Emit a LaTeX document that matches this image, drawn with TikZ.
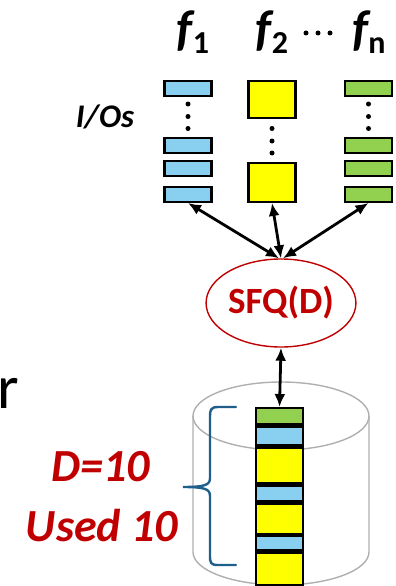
\documentclass[tikz,border=0pt]{standalone}
\usepackage{fontspec}
\setmainfont{Carlito}
\usetikzlibrary{arrows.meta,shapes.geometric}
\definecolor{ioblue}{RGB}{137,207,240}
\definecolor{ioyellow}{RGB}{255,255,0}
\definecolor{iogreen}{RGB}{146,208,80}
\definecolor{darkred}{RGB}{192,0,0}
\definecolor{bracecol}{RGB}{31,95,140}
\definecolor{diskgray}{RGB}{175,175,175}
\tikzset{
  io/.style={draw=black, line width=2.4pt, minimum width=47pt, minimum height=14.5pt, inner sep=0pt},
  seg/.style={draw=black, line width=2.4pt, minimum width=46.5pt, inner sep=0pt, anchor=north},
  biarrow/.style={line width=2.8pt, {Latex[length=13pt,width=11pt]}-{Latex[length=13pt,width=11pt]}},
  vdot/.style={fill=black, draw=none},
  flabel/.style={inner sep=0pt, anchor=base, font=\fontsize{50}{50}\selectfont\bfseries},
}
\newcommand{\subidx}[1]{\raisebox{-8pt}{\fontsize{32}{32}\selectfont\upshape #1}}
\begin{document}
\begin{tikzpicture}[x=1pt,y=-1pt]
\useasboundingbox (0,0) rectangle (396,586);

% flow labels
\node[flabel] (f1) at (193,46) {\itshape f\subidx{1}};
\node[flabel] (f2) at (272,46) {\itshape f\subidx{2}};
\node[flabel] (fn) at (369,46) {\itshape f\subidx{n}};
\foreach \x in {306,318,330} \fill[vdot] (\x,33) circle[radius=2.5pt];

\node[inner sep=0pt, font=\fontsize{33}{33}\selectfont\bfseries\itshape] (ios) at (105,117) {I/Os};

% flow 1 queue
\node[io, fill=ioblue] (b0) at (188,88.5) {};
\node[io, fill=ioblue] (b1) at (188,145.5) {};
\node[io, fill=ioblue] (b2) at (188,168.5) {};
\node[io, fill=ioblue] (b3) at (188,194.5) {};
% flow 2 queue
\node[io, fill=ioyellow, minimum height=36.5pt] (y0) at (272,99.5) {};
\node[io, fill=ioyellow, minimum height=38.5pt] (y1) at (272,182.5) {};
% flow n queue
\node[io, fill=iogreen] (g0) at (368.5,88.5) {};
\node[io, fill=iogreen] (g1) at (368.5,145.5) {};
\node[io, fill=iogreen] (g2) at (368.5,168.5) {};
\node[io, fill=iogreen] (g3) at (368.5,194.5) {};

\foreach \y in {104,116.5,128.5} {
  \fill[vdot] (188,\y) circle[radius=2.5pt];
  \fill[vdot] (368.5,\y) circle[radius=2.5pt];
}
\foreach \y in {128.5,141,153} \fill[vdot] (272,\y) circle[radius=2.5pt];

% scheduler
\node[ellipse, draw=darkred, line width=1.4pt, minimum width=121pt, minimum height=88pt,
      inner sep=0pt, text=darkred, font=\fontsize{37}{37}\selectfont\bfseries] (sfq) at (281,303) {SFQ(D)};

\coordinate (inL) at ([xshift=-2pt]sfq.north);
\coordinate (inR) at ([xshift=2pt]sfq.north);
\draw[biarrow] (b3.south) -- (inL);
\draw[biarrow] (y1.south) -- (sfq.north);
\draw[biarrow] (g3.south) -- (inR);

% disk
\draw[diskgray, line width=1.4pt] (281,416) ellipse [x radius=88pt, y radius=34pt];
\draw[diskgray, line width=1.4pt] (193,416) -- (193,552)
   arc[start angle=180, end angle=360, x radius=88pt, y radius=33pt] -- (369,416);

% outstanding requests at the device
\node[seg, fill=iogreen,  minimum height=16pt] (s1) at (279.5,407) {};
\node[seg, fill=ioblue,   minimum height=19pt] (s2) at (s1.south) {};
\node[seg, fill=ioyellow, minimum height=35pt] (s3) at (s2.south) {};
\node[seg, fill=ioblue,   minimum height=16pt] (s4) at (s3.south) {};
\node[seg, fill=ioyellow, minimum height=30pt] (s5) at (s4.south) {};
\node[seg, fill=ioblue,   minimum height=14pt] (s6) at (s5.south) {};
\node[seg, fill=ioyellow, minimum height=33pt] (s7) at (s6.south) {};

\draw[biarrow] (sfq.south) -- (s1.north);

% brace
\coordinate (bt) at (236,407);
\coordinate (bb) at (236,565);
\coordinate (tip) at (183,487);
\draw[bracecol, line width=2.4pt, line cap=round]
  (bt) -- (218,407) .. controls (211,407) and (210,410) .. (210,416)
  -- (210,478) .. controls (210,485) and (205,487) .. (tip)
  .. controls (205,487) and (210,489) .. (210,496)
  -- (210,556) .. controls (210,563) and (211,565) .. (218,565) -- (bb);

\node[inner sep=0pt, text=darkred, font=\fontsize{46}{46}\selectfont\bfseries\itshape] (dl) at (101,467) {D=10};
\node[inner sep=0pt, text=darkred, font=\fontsize{46}{46}\selectfont\bfseries\itshape] (ul) at (102,526) {Used 10};

\node[inner sep=0pt, anchor=base west, font=\fontsize{62}{62}\selectfont] (rr) at (-3,408) {r};
\end{tikzpicture}
\end{document}
